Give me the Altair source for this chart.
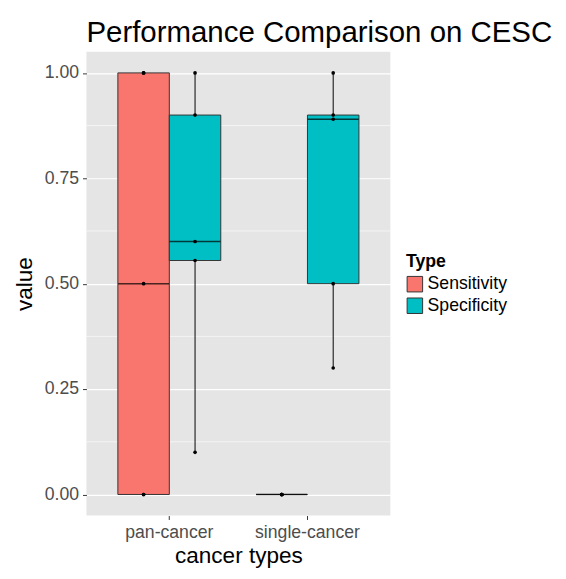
import altair as alt
import pandas as pd
import numpy as np

groups = ["pan-cancer", "pan-cancer", "single-cancer", "single-cancer"]
types = ["Sensitivity", "Specificity", "Sensitivity", "Specificity"]
values = [
    [0.0, 0.0, 0.5, 1.0, 1.0],
    [0.1, 0.555, 0.6, 0.9, 1.0],
    [0.0, 0.0, 0.0, 0.0, 0.0],
    [0.3, 0.5, 0.89, 0.9, 1.0],
]

pts, stats = [], []
for g, t, v in zip(groups, types, values):
    a = np.array(v)
    q1, med, q3 = np.quantile(a, [0.25, 0.5, 0.75])
    iqr = q3 - q1
    lo = a[a >= q1 - 1.5 * iqr].min()
    hi = a[a <= q3 + 1.5 * iqr].max()
    stats.append(dict(g=g, Type=t, q1=q1, med=med, q3=q3, lo=lo, hi=hi))
    for x in v:
        pts.append(dict(g=g, Type=t, value=x))
S = pd.DataFrame(stats)
P = pd.DataFrame(pts)

xs = alt.Scale(paddingInner=0.255, paddingOuter=0.2275)
X = alt.X("g:N", scale=xs, title="cancer types",
          axis=alt.Axis(labelAngle=0, bandPosition=0.5))
XO = alt.XOffset("Type:N")
ys = alt.Scale(domain=[-0.05, 1.05], nice=False, zero=False)
col = alt.Color("Type:N", scale=alt.Scale(range=["#F8766D", "#00BFC4"]),
                legend=alt.Legend(title="Type", symbolType="square", symbolSize=250,
                                  symbolStrokeColor="#333", symbolStrokeWidth=1,
                                  orient="none", legendX=326, legendY=205))

minor = pd.DataFrame({"m": [0.125, 0.375, 0.625, 0.875]})
grid_minor = alt.Chart(minor).mark_rule(color="white", strokeWidth=0.6).encode(
    y=alt.Y("m:Q", scale=ys))

whisk = alt.Chart(S).mark_rule(color="black", strokeWidth=1).encode(
    x=X, xOffset=XO,
    y=alt.Y("lo:Q", scale=ys, title="value",
             axis=alt.Axis(values=[0, 0.25, 0.5, 0.75, 1.0], format=".2f")),
    y2="hi:Q")
box = alt.Chart(S).mark_bar(stroke="#333", strokeWidth=1).encode(
    x=X, xOffset=XO, y=alt.Y("q1:Q", scale=ys), y2="q3:Q", color=col)
med = alt.Chart(S).mark_tick(color="black", thickness=1.5).encode(
    x=X, xOffset=XO, y=alt.Y("med:Q", scale=ys), size=alt.value(52))
dots = alt.Chart(P).mark_circle(color="black", size=14, opacity=1).encode(
    x=X, xOffset=XO, y=alt.Y("value:Q", scale=ys))

chart = alt.layer(grid_minor, whisk, box, med, dots).properties(
    width=310, height=473,
    title=alt.Title("Performance Comparison on CESC", fontSize=30, fontWeight="normal",
                    anchor="start", frame="group", offset=4, font="Liberation Sans")
).configure_view(fill="#E5E5E5", stroke=None).configure_axis(
    gridColor="white", gridWidth=1.2, domain=False, tickColor="#333",
    tickSize=4, labelColor="#4D4D4D", labelFontSize=18, titleFontSize=23,
    titleFontWeight="normal", labelFont="Liberation Sans", titleFont="Liberation Sans",
    labelPadding=4
).configure_axisY(titlePadding=8).configure_axisX(titlePadding=4).configure_legend(
    titleFontSize=18, labelFontSize=18, titleFont="Liberation Sans",
    labelFont="Liberation Sans"
).configure_title(anchor="start")
chart.save("out.html", embed_options={"renderer": "svg", "actions": False})
